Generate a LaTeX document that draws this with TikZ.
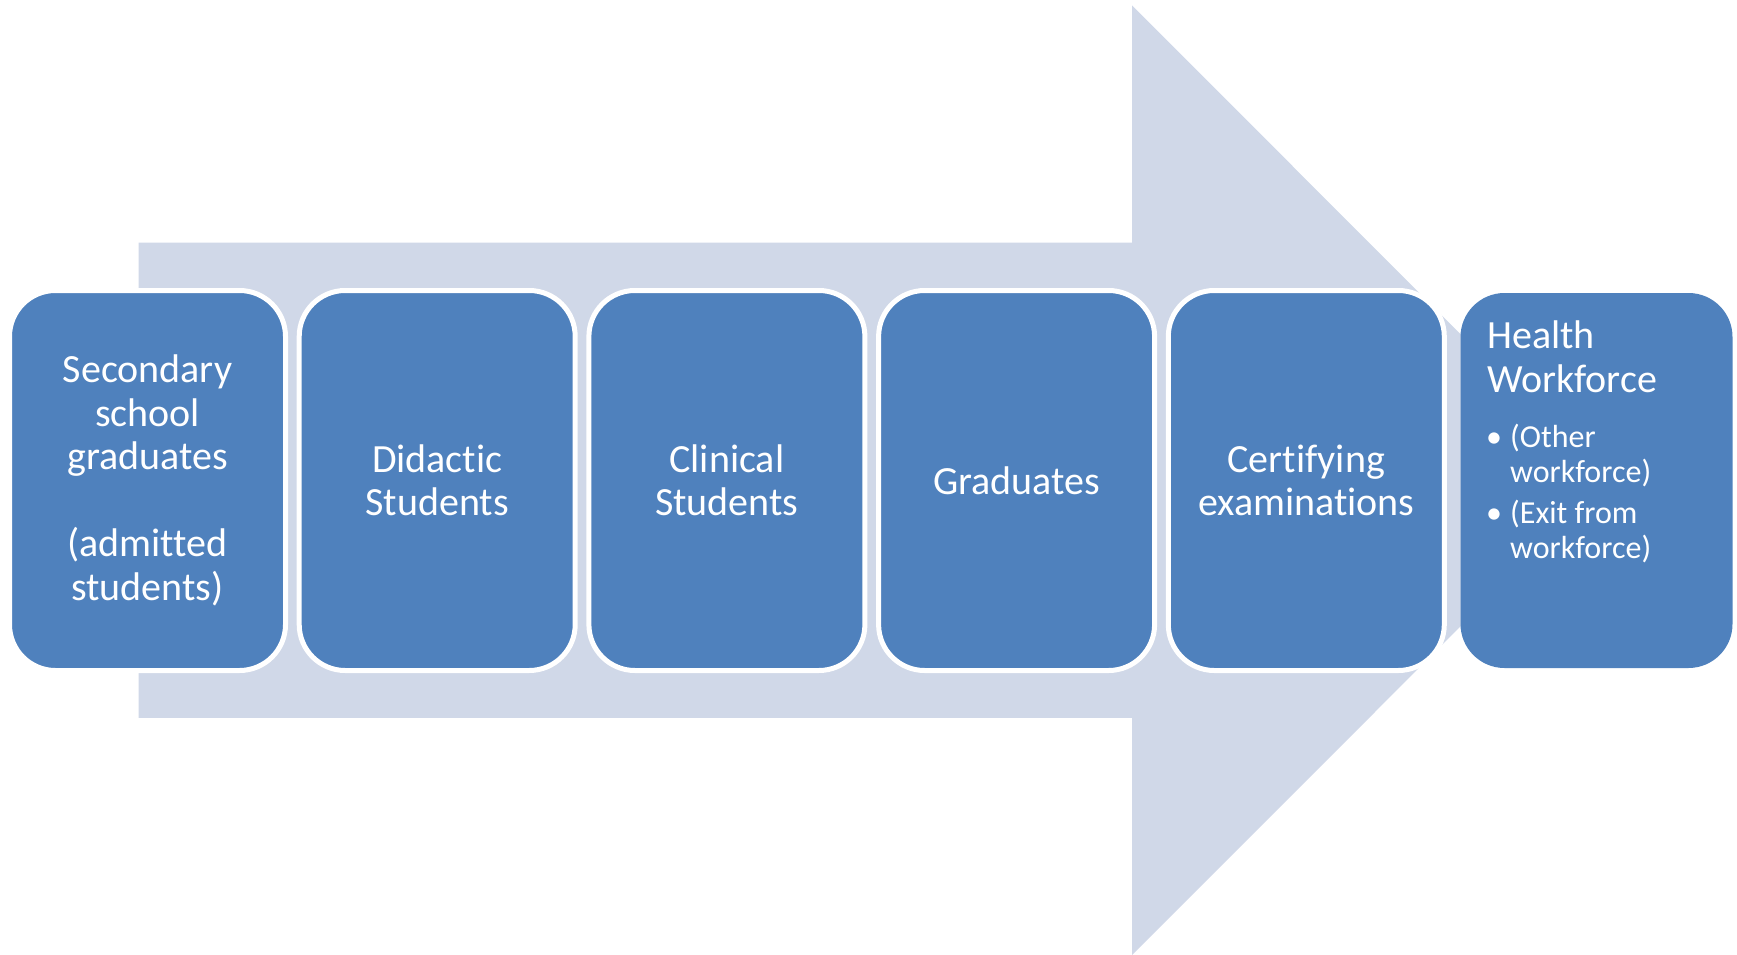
\documentclass[tikz,border=0pt]{standalone}
\usepackage{fontspec}
\setmainfont{Carlito}[Ligatures={NoCommon}]
\definecolor{boxblue}{HTML}{4F81BD}
\definecolor{arrowgray}{HTML}{D0D8E8}
\begin{document}
\begin{tikzpicture}[x=1pt,y=-1pt,
  stage/.style={fill=boxblue, draw=white, line width=5pt, rounded corners=46pt,
    minimum width=276pt, minimum height=380pt, inner sep=0pt, text=white,
    font=\fontsize{40}{43.5}\selectfont, align=center},
  finalbox/.style={fill=boxblue, draw=none, rounded corners=44pt,
    minimum width=272pt, minimum height=375pt, inner sep=0pt},
  headtext/.style={text=white, inner sep=0pt, anchor=base west, font=\fontsize{40}{43}\selectfont},
  listtext/.style={text=white, inner sep=0pt, anchor=base west, font=\fontsize{32}{35}\selectfont}]
\useasboundingbox (0,0) rectangle (1737,955);
% big background arrow
\fill[arrowgray] (138.5,242.6) -- (1132,242.6) -- (1132,5.5) -- (1606.7,480.25)
  -- (1132,955) -- (1132,717.9) -- (138.5,717.9) -- cycle;
% stages
\node[stage] (s1) at (147.5,480.5) {Secondary\\school\\graduates\\[43.5pt](admitted\\students)};
\node[stage] (s2) at (437.2,480.5) {Didactic\\Students};
\node[stage] (s3) at (726.9,480.5) {Clinical\\Students};
\node[stage] (s4) at (1016.6,480.5) {Graduates};
\node[stage] (s5) at (1306.3,480.5) {Certifying\\examinations};
\node[finalbox] (s6) at (1596.5,480.5) {};
% final box text
\node[headtext] (h1) at (1487,348) {Health};
\node[headtext] (h2) at (1487,392) {Workforce};
\node[listtext] (b1) at (1486,447) {•};
\node[listtext] (t1) at (1510,447) {(Other};
\node[listtext] (t1b) at (1510,482) {workforce)};
\node[listtext] (b2) at (1486,523) {•};
\node[listtext] (t2) at (1510,523) {(Exit from};
\node[listtext] (t2b) at (1510,558) {workforce)};
\end{tikzpicture}
\end{document}
